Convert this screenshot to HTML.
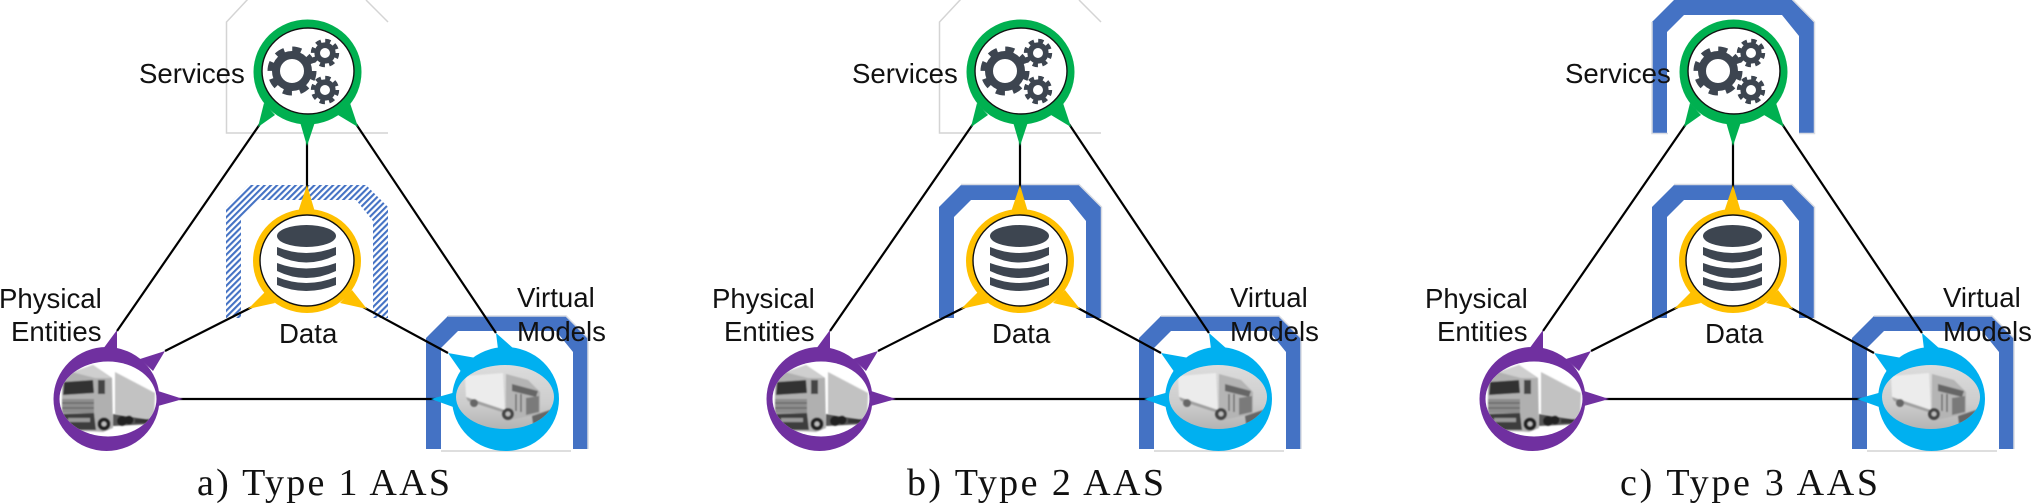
<!DOCTYPE html>
<html><head><meta charset="utf-8"><style>
html,body{margin:0;padding:0;background:#fff;width:2032px;height:504px;overflow:hidden}
svg{display:block}
.l{font:27.6px "Liberation Sans",sans-serif;fill:#111}
.c{font:38px "Liberation Serif",serif;fill:#111}
</style></head><body>
<svg width="2032" height="504" viewBox="0 0 2032 504" xmlns="http://www.w3.org/2000/svg">
<defs>
<filter id="b" x="-5%" y="-5%" width="110%" height="110%"><feGaussianBlur stdDeviation="0.7"/></filter>
<pattern id="h" width="4.4" height="4.4" patternUnits="userSpaceOnUse" patternTransform="rotate(45)">
<rect width="4.4" height="4.4" fill="#fff"/><rect width="2.1" height="4.4" fill="#4472c4"/>
</pattern>
<clipPath id="pc"><ellipse cx="108" cy="399" rx="48.5" ry="37.5"/></clipPath>
<clipPath id="vc"><ellipse cx="505" cy="397" rx="49" ry="32"/></clipPath>
<linearGradient id="vg" x1="0" y1="0" x2="0" y2="1"><stop offset="0" stop-color="#dcdcdc"/><stop offset="0.6" stop-color="#cdcdcd"/><stop offset="1" stop-color="#b4b4b4"/></linearGradient>
<path id="arch" d="M0,133V22L22,0H140L162,22V133H147V36L130,15H32L15,32V133Z"/>

<g id="gear">
<circle r="16" fill="none" stroke="#3d4550" stroke-width="8"/>
<circle r="21.5" fill="none" stroke="#3d4550" stroke-width="6" stroke-dasharray="8.9 8"/>
</g>
<g id="sgear">
<circle r="7.8" fill="none" stroke="#3d4550" stroke-width="5.6"/>
<circle r="12" fill="none" stroke="#3d4550" stroke-width="4.400" stroke-dasharray="5.2 4.2"/>
</g>

<g id="base">
<!-- connectors -->
<g stroke="#000" stroke-width="2.2" fill="none">
<path d="M260,124L117,331M356,124L496,333M307,142V189M252,307L165,351M363,307L448,353M179,399H436"/>
</g>
<!-- services node -->
<g fill="#00b050">
<ellipse cx="307.500" cy="72" rx="54" ry="52.500"/>
<path d="M264,103L258,127L275,115ZM350,103L358,127L338,115ZM300,122L307,146L315,122Z"/>
</g>
<ellipse cx="308" cy="71" rx="46" ry="43" fill="#fff" stroke="#111" stroke-width="1.400"/>
<use href="#gear" x="292" y="71"/>
<use href="#sgear" x="325" y="53"/>
<use href="#sgear" x="325" y="90"/>
<!-- data node -->
<g fill="#ffc000">
<ellipse cx="307" cy="261" rx="54" ry="52"/>
<path d="M298,212L307,185L315,212ZM265,292L248,309L275,303ZM352,290L367,309L340,303Z"/>
</g>
<ellipse cx="307" cy="260.500" rx="47" ry="45.500" fill="#fff" stroke="#111" stroke-width="1.400"/>
<g fill="#3d4550">
<ellipse cx="306.500" cy="236" rx="29.500" ry="11"/>
<path d="M277,247Q306,259 336,247V255Q306,270 277,255Z"/>
<path d="M277,263Q306,274 336,263V271Q306,285 277,271Z"/>
<path d="M277,277Q306,289 336,277V285Q306,297 277,285Z"/>
</g>
<!-- physical node -->
<g fill="#7030a0">
<ellipse cx="106.500" cy="399" rx="53" ry="52"/>
<path d="M103,349L117,330L117,349ZM140,359L165,351L153,371ZM158,391L183,399L158,406Z"/>
</g>
<ellipse cx="108" cy="399" rx="48.500" ry="37.500" fill="#fff"/>
<g clip-path="url(#pc)"><g filter="url(#b)">
<path d="M115,372L155,393L154,420L115,414Z" fill="#c2c2c2"/>
<path d="M113,414L153,420V424L113,426Z" fill="#555"/>
<path d="M62,382L70,373L93,365L112,378L113,428L103,432L62,430Z" fill="#b0b0b0"/>
<path d="M72,372L93,365L111,378L95,378Z" fill="#cfcfcf"/>
<path d="M64,382L93,380L94,393L63,395Z" fill="#333"/>
<path d="M98,380H105V394H98Z" fill="#444"/>
<path d="M62,399H94V413H62Z" fill="#8d8d8d"/>
<path d="M62,403H94M62,408H94" stroke="#555" stroke-width="1"/>
<path d="M62,414L94,413L96,430H62Z" fill="#3d3d3d"/>
<path d="M68,418H90V422H68Z" fill="#999"/>
<circle cx="104" cy="424" r="6.500" fill="#222"/><circle cx="104" cy="424" r="2.500" fill="#bbb"/>
<circle cx="122" cy="421" r="5" fill="#222"/><circle cx="129" cy="420" r="4.500" fill="#222"/>
<path d="M135,419H152V423H135Z" fill="#333"/>
</g></g>
<!-- virtual node -->
<g fill="#00b0f0">
<ellipse cx="505.500" cy="399" rx="53.500" ry="52"/>
<path d="M498,349L496,333L514,349ZM476,358L448,353L462,373ZM456,392L431,399L456,408Z"/>
</g>
<ellipse cx="505" cy="397" rx="49" ry="32" fill="url(#vg)"/>
<g clip-path="url(#vc)"><g filter="url(#b)">
<path d="M465,376L503,373L505,410L466,397Z" fill="#ececec"/>
<path d="M466,397L505,410V413L468,401Z" fill="#a0a0a0"/>
<path d="M506,374L528,380L540,392V414L510,420L506,410Z" fill="#b4b4b4"/>
<path d="M512,384L538,391L536,397L512,391Z" fill="#666"/>
<path d="M526,398L539,396V412L526,415Z" fill="#7a7a7a"/>
<path d="M516,394V411M521,394V412" stroke="#555" stroke-width="1.200"/>
<path d="M532,416L556,408V430H534Z" fill="#666"/>
<circle cx="474" cy="403" r="4" fill="#666"/><circle cx="508" cy="414" r="6" fill="#444"/><circle cx="508" cy="414" r="2.500" fill="#bbb"/>
</g></g>
</g>
<g id="vbox">
<use href="#arch" x="426" y="316" fill="#4472c4"/>
<path d="M441,451H571" stroke="#d4d4d4" stroke-width="1.500"/>
<path d="M448,316H566L588,338V449" fill="none" stroke="#d8dbe2" stroke-width="1.500"/>
</g>
<g id="gbox" fill="none" stroke="#d4d4d4" stroke-width="1.500">
<path d="M248,-1L226.500,22V133H388"/><path d="M366,0L388,22" />
</g>
<g id="sbox">
<use href="#arch" x="226" y="0" fill="#4472c4"/>
<path d="M226,22V133.500H242M373,133.500H388.500V22L366,-1" fill="none" stroke="#d8dbe2" stroke-width="1.500"/>
</g>
<g id="dbox">
<use href="#arch" x="226" y="185" fill="#4472c4"/>
<path d="M248,184.500H366L388.500,207V318.500" fill="none" stroke="#d8dbe2" stroke-width="1.500"/>
</g>
</defs>

<!-- panel a -->
<g>
<use href="#gbox"/><use href="#arch" x="226" y="185" fill="url(#h)"/><use href="#vbox"/><use href="#base"/>
<text class="l" x="139" y="83">Services</text>
<text class="l" x="-1" y="308">Physical</text>
<text class="l" x="11" y="341">Entities</text>
<text class="l" x="279" y="343">Data</text>
<text class="l" x="517" y="307">Virtual</text>
<text class="l" x="517" y="341">Models</text>
<text class="c" x="197" y="495" textLength="253" lengthAdjust="spacing">a) Type 1 AAS</text>
</g>
<!-- panel b -->
<g transform="translate(713,0)">
<use href="#gbox"/><use href="#dbox"/><use href="#vbox"/><use href="#base"/>
<text class="l" x="139" y="83">Services</text>
<text class="l" x="-1" y="308">Physical</text>
<text class="l" x="11" y="341">Entities</text>
<text class="l" x="279" y="343">Data</text>
<text class="l" x="517" y="307">Virtual</text>
<text class="l" x="517" y="341">Models</text>
<text class="c" x="194" y="495" textLength="257" lengthAdjust="spacing">b) Type 2 AAS</text>
</g>
<!-- panel c -->
<g transform="translate(1426,0)">
<use href="#sbox"/><use href="#dbox"/><use href="#vbox"/><use href="#base"/>
<text class="l" x="139" y="83">Services</text>
<text class="l" x="-1" y="308">Physical</text>
<text class="l" x="11" y="341">Entities</text>
<text class="l" x="279" y="343">Data</text>
<text class="l" x="517" y="307">Virtual</text>
<text class="l" x="517" y="341">Models</text>
<text class="c" x="194" y="495" textLength="258" lengthAdjust="spacing">c) Type 3 AAS</text>
</g>
</svg>
</body></html>
